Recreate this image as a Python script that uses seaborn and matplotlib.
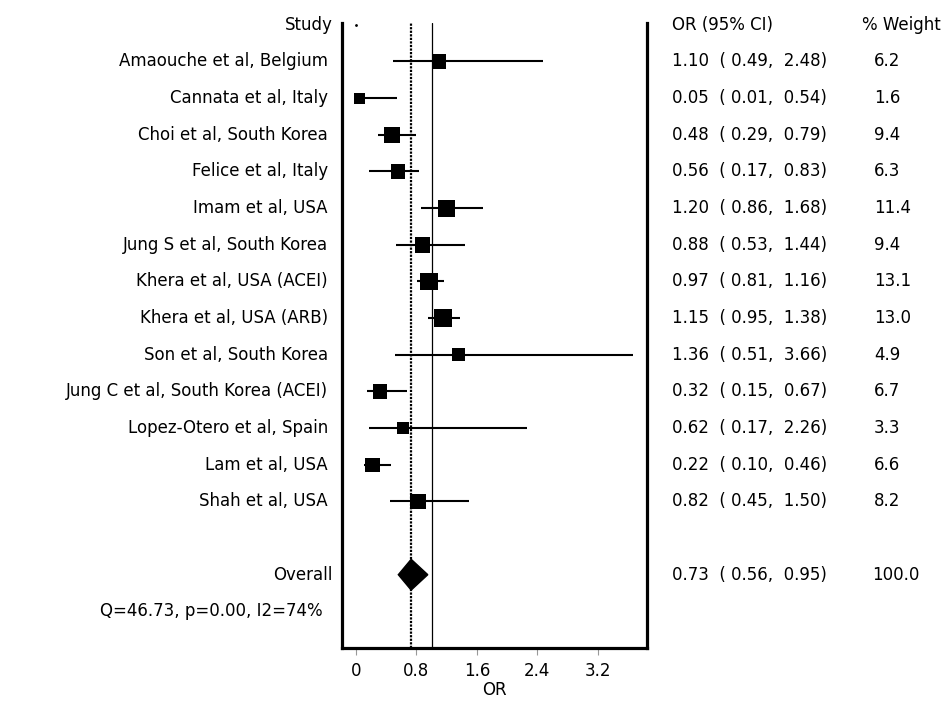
import matplotlib
matplotlib.use("Agg")
import matplotlib.pyplot as plt
import matplotlib.transforms as mtransforms
import seaborn as sns
import numpy as np

# Study data
studies = ['Amaouche et al, Belgium', 'Cannata et al, Italy', 'Choi et al, South Korea',
           'Felice et al, Italy', 'Imam et al, USA', 'Jung S et al, South Korea',
           'Khera et al, USA (ACEI)', 'Khera et al, USA (ARB)', 'Son et al, South Korea',
           'Jung C et al, South Korea (ACEI)', 'Lopez-Otero et al, Spain', 'Lam et al, USA',
           'Shah et al, USA']
odds = [1.10, 0.05, 0.48, 0.56, 1.20, 0.88, 0.97, 1.15, 1.36, 0.32, 0.62, 0.22, 0.82]
lower = [0.49, 0.01, 0.29, 0.17, 0.86, 0.53, 0.81, 0.95, 0.51, 0.15, 0.17, 0.10, 0.45]
upper = [2.48, 0.54, 0.79, 0.83, 1.68, 1.44, 1.16, 1.38, 3.66, 0.67, 2.26, 0.46, 1.50]
weights = [6.2, 1.6, 9.4, 6.3, 11.4, 9.4, 13.1, 13.0, 4.9, 6.7, 3.3, 6.6, 8.2]

overall_or = 0.73
overall_ci = (0.56, 0.95)
overall_weight = 100.0
heterogeneity = 'Q=46.73, p=0.00, I2=74%'
xticks = [0, 0.8, 1.6, 2.4, 3.2]

sns.set_style('white')
plt.rcParams['font.family'] = ['DejaVu Sans']
plt.rcParams['text.color'] = 'black'
plt.rcParams['xtick.labelcolor'] = 'black'
plt.rcParams['axes.labelcolor'] = 'black'

fig = plt.figure(figsize=(9.53, 7.03), dpi=100)
ax = fig.add_axes([342 / 953, 1 - 648 / 703, 305 / 953, 625 / 703])

rows = np.arange(1, len(studies) + 1)
overall_row = len(studies) + 2
q_row = overall_row + 1

# confidence interval lines
ax.hlines(rows, lower, upper, color='black', lw=1.5, zorder=2)

# weighted squares
sns.scatterplot(x=odds, y=rows, size=weights, sizes=(63, 162), size_norm=(1.6, 13.1),
                marker='s', color='black', linewidth=0, legend=False, ax=ax, zorder=3)

# tiny marker on the header row
ax.plot([0], [0], marker='.', color='black', ms=2)

# reference lines
ax.axvline(1, color='black', lw=0.9, zorder=1)
ax.axvline(overall_or, color='black', lw=1.6, ls=(0, (1, 0.6)), zorder=1)

# pooled estimate diamond
lo, hi = overall_ci
ax.fill([lo, overall_or, hi, overall_or],
        [overall_row, overall_row - 0.42, overall_row, overall_row + 0.42],
        color='black', zorder=4)

ax.set_xlim(-0.185, 3.85)
ax.set_ylim(17.0, -0.05)
ax.set_yticks([])
ax.set_xticks(xticks)
ax.set_xticklabels(['0', '0.8', '1.6', '2.4', '3.2'])
ax.set_xlabel('OR', fontsize=12, labelpad=1)
ax.tick_params(axis='x', direction='out', length=5, width=0.8, color='#999999',
               labelsize=12, pad=5, bottom=True)
for side in ['left', 'right', 'bottom']:
    ax.spines[side].set_visible(True)
    ax.spines[side].set_color('black')
    ax.spines[side].set_linewidth(2.3)
ax.spines['top'].set_visible(False)

# text columns: x in figure fraction, y in data rows
trans = mtransforms.blended_transform_factory(fig.transFigure, ax.transData)
fs = 12
ax.text(333 / 953, 0, 'Study', transform=trans, ha='right', va='center', fontsize=fs)
ax.text(672 / 953, 0, 'OR (95% CI)', transform=trans, ha='left', va='center', fontsize=fs)
ax.text(862 / 953, 0, '% Weight', transform=trans, ha='left', va='center', fontsize=fs)
for r, name, o, l, h, w in zip(rows, studies, odds, lower, upper, weights):
    ax.text(328 / 953, r, name, transform=trans, ha='right', va='center', fontsize=fs)
    ax.text(672 / 953, r, f'{o:.2f}  ( {l:.2f},  {h:.2f})', transform=trans,
            ha='left', va='center', fontsize=fs)
    ax.text(874 / 953, r, f'{w:.1f}', transform=trans, ha='left', va='center', fontsize=fs)
ax.text(333 / 953, overall_row, 'Overall', transform=trans, ha='right', va='center', fontsize=fs)
ax.text(672 / 953, overall_row, f'{overall_or:.2f}  ( {lo:.2f},  {hi:.2f})', transform=trans,
        ha='left', va='center', fontsize=fs)
ax.text(872 / 953, overall_row, f'{overall_weight:.1f}', transform=trans,
        ha='left', va='center', fontsize=fs)
ax.text(323 / 953, q_row, heterogeneity, transform=trans, ha='right', va='center', fontsize=fs)

fig.savefig('out.png', dpi=100)
